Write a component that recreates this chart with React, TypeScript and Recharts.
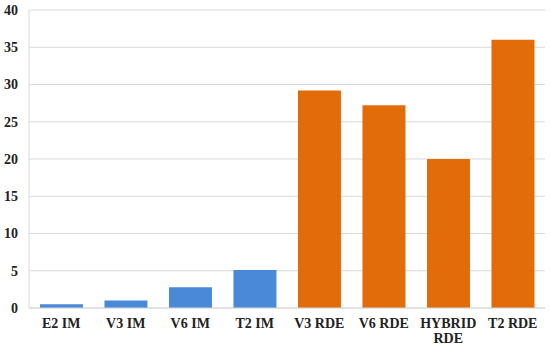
import { BarChart, Bar, XAxis, YAxis, CartesianGrid, Cell, Text } from "recharts";

const categories = ["E2 IM", "V3 IM", "V6 IM", "T2 IM", "V3 RDE", "V6 RDE", "HYBRID RDE", "T2 RDE"];
const values = [0.5, 1.0, 2.8, 5.1, 29.2, 27.2, 20.0, 36.0];
const groups = ["IM", "IM", "IM", "IM", "RDE", "RDE", "RDE", "RDE"];
const yTicks = [0, 5, 10, 15, 20, 25, 30, 35, 40];

const COLORS: Record<string, string> = { IM: "#4A88D8", RDE: "#E36C0A" };
const GRID = "#d9d9d9";
const FONT = "'Liberation Serif', 'Times New Roman', serif";

const data = categories.map((name, i) => ({ name, value: values[i], group: groups[i] }));

const XTick = ({ x, y, payload }: any) => (
  <Text
    x={x}
    y={y + 2}
    width={62}
    textAnchor="middle"
    verticalAnchor="start"
    fontFamily={FONT}
    fontWeight="bold"
    fontSize={14}
    fill="#222"
    lineHeight={15}
  >
    {payload.value}
  </Text>
);

export default function App() {
  return (
    <div style={{ position: "absolute", left: 0, top: 0, background: "#fff" }}>
      <BarChart
        width={550}
        height={346}
        data={data}
        margin={{ top: 10, right: 5, left: 0, bottom: 0 }}
        barCategoryGap="17%"
      >
        <CartesianGrid vertical={false} stroke={GRID} />
        <XAxis
          dataKey="name"
          height={38}
          axisLine={{ stroke: GRID }}
          tickLine={false}
          interval={0}
          tick={<XTick />}
        />
        <YAxis
          domain={[0, 40]}
          ticks={yTicks}
          width={29}
          axisLine={{ stroke: GRID }}
          tickLine={false}
          tickSize={0}
          tickMargin={11}
          tick={{ fontFamily: FONT, fontWeight: "bold", fontSize: 14, fill: "#222" }}
        />
        <YAxis
          yAxisId="r"
          orientation="right"
          domain={[0, 40]}
          width={0}
          tick={false}
          tickLine={false}
          axisLine={{ stroke: GRID }}
        />
        <Bar dataKey="value" isAnimationActive={false}>
          {data.map((d, i) => (
            <Cell key={`cell-${i}`} fill={COLORS[d.group]} />
          ))}
        </Bar>
      </BarChart>
    </div>
  );
}
